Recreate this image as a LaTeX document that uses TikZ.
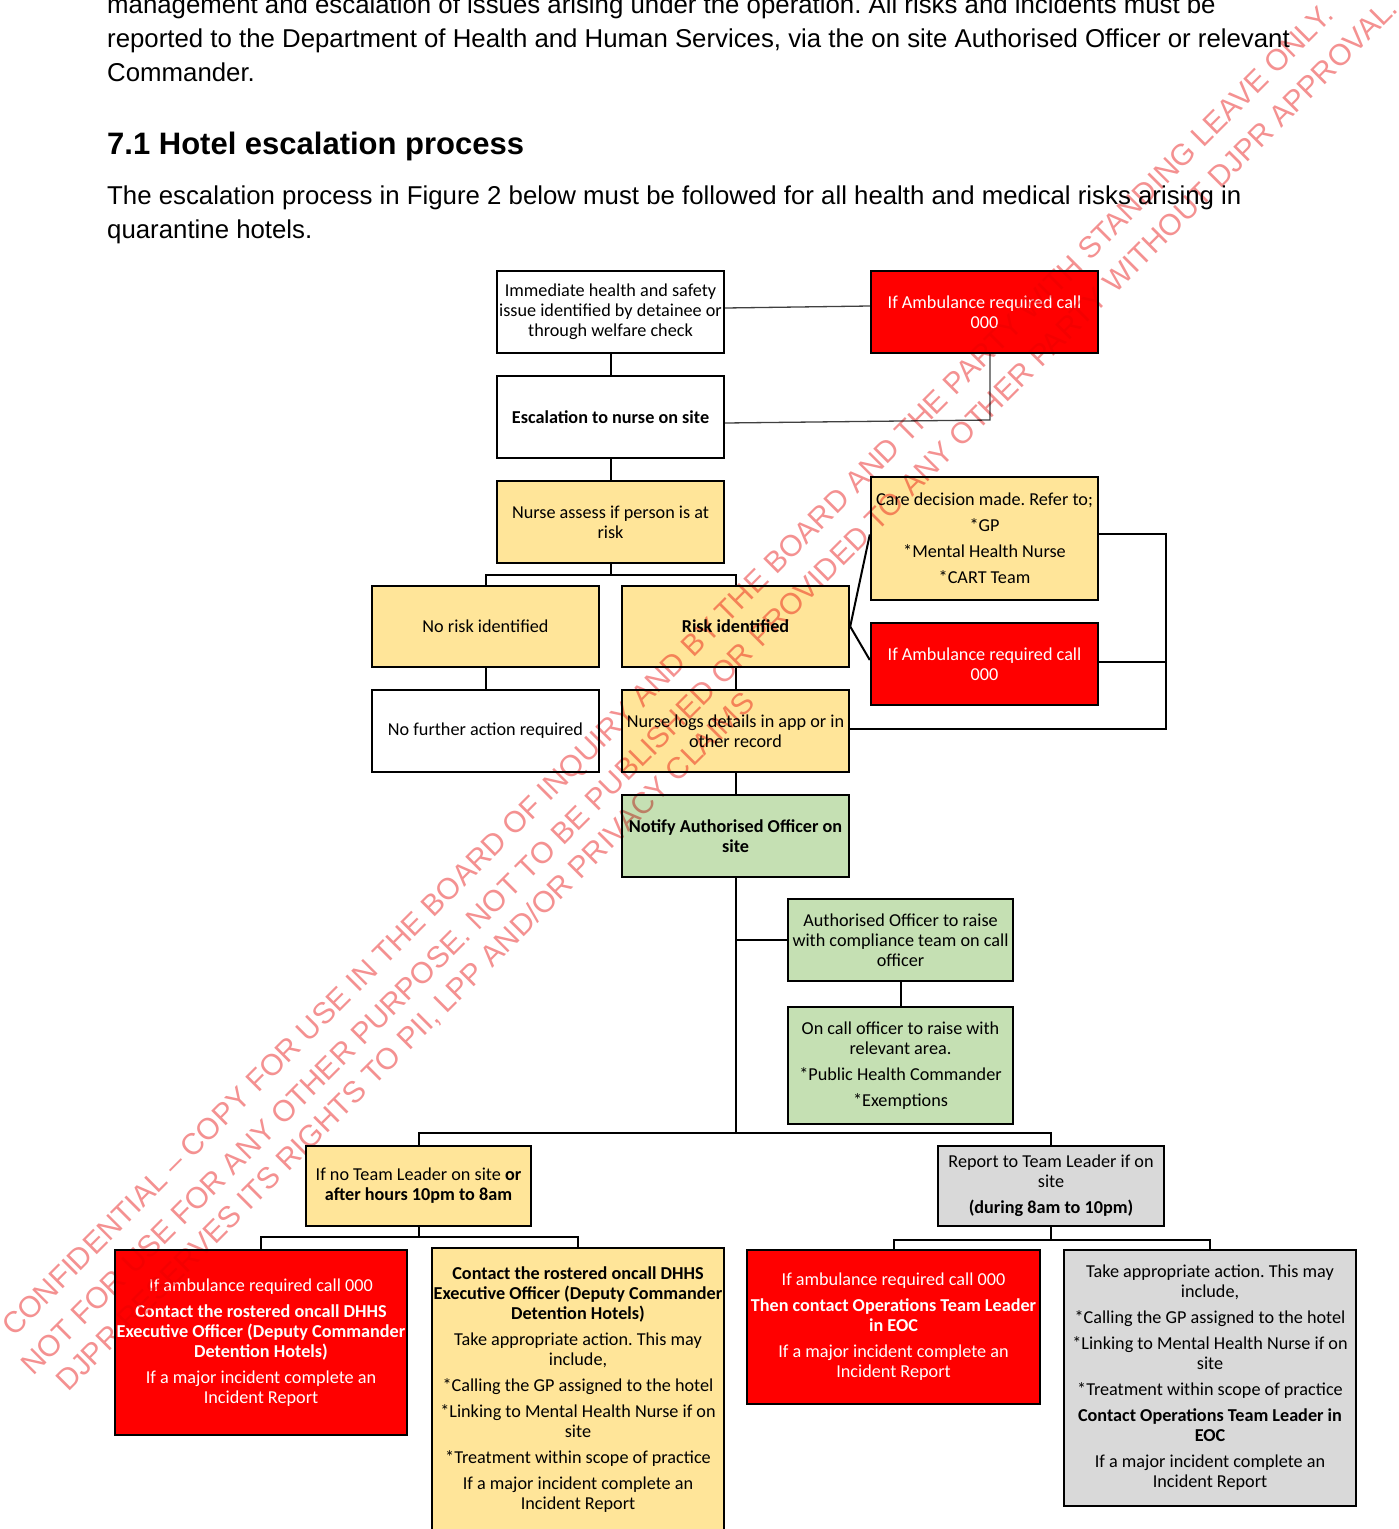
\documentclass[tikz,border=0pt]{standalone}
\usepackage{fontspec}
\setmainfont{Liberation Sans}
\newfontfamily\boxfont{Carlito}
\usepackage{pdfrender}
\definecolor{yel}{RGB}{255,229,153}
\definecolor{grn}{RGB}{197,224,179}
\definecolor{gry}{RGB}{217,217,217}
\definecolor{redbox}{RGB}{255,0,0}
\definecolor{wmcol}{RGB}{244,145,145}
\frenchspacing
\begin{document}
\begin{tikzpicture}[x=1pt,y=-1pt,
  box/.style={draw=black, line width=2.4pt, inner sep=0pt, align=center,
    font=\boxfont\fontsize{18.2}{20}\selectfont\frenchspacing},
  wbox/.style={box, fill=white},
  ybox/.style={box, fill=yel},
  gbox/.style={box, fill=grn},
  grbox/.style={box, fill=gry},
  rbox/.style={box, fill=redbox, text=white},
  conn/.style={line width=2pt, black},
  thinconn/.style={line width=1.3pt, black!75},
  body/.style={anchor=base west, inner sep=0pt, font=\fontsize{25.8}{34}\selectfont\frenchspacing},
  head/.style={anchor=base west, inner sep=0pt, font=\bfseries\fontsize{31}{36}\selectfont},
  wmark/.style={anchor=base west, inner sep=0pt, rotate=45, text=wmcol,
    font=\fontsize{29.9}{36}\selectfont\frenchspacing}
]
\useasboundingbox (0,0) rectangle (1399,1529);
\clip (0,0) rectangle (1399,1529);
\fill[white] (0,0) rectangle (1399,1529);

% body text
\node[body] (t1) at (107,13) {management and escalation of issues arising under the operation. All risks and incidents must be};
\node[body] (t2) at (107,47) {reported to the Department of Health and Human Services, via the on site Authorised Officer or relevant};
\node[body] (t3) at (107,81) {Commander.};
\node[head] (h1) at (107,154) {7.1 Hotel escalation process};
\node[body] (t4) at (107,204) {The escalation process in Figure 2 below must be followed for all health and medical risks arising in};
\node[body] (t5) at (107,238) {quarantine hotels.};

% boxes
\node[wbox, minimum width=227pt, minimum height=82pt] (b1) at (610.5,312)
  {Immediate health and safety\\issue identified by detainee or\\through welfare check};
\node[rbox, minimum width=227pt, minimum height=82pt] (a1) at (984.5,312)
  {If Ambulance required call\\000};
\node[wbox, minimum width=227pt, minimum height=82pt] (b2) at (610.5,417)
  {\textbf{Escalation to nurse on site}};
\node[ybox, minimum width=227pt, minimum height=82pt] (b3) at (610.5,522)
  {Nurse assess if person is at\\risk};
\node[ybox, minimum width=227pt, minimum height=81pt] (b4) at (485.5,626.5)
  {No risk identified};
\node[ybox, minimum width=227pt, minimum height=81pt] (b5) at (735.5,626.5)
  {\textbf{Risk identified}};
\node[wbox, minimum width=227pt, minimum height=82pt] (b6) at (485.5,731)
  {No further action required};
\node[ybox, minimum width=227pt, minimum height=82pt] (b7) at (735.5,731)
  {Nurse logs details in app or in\\other record};
\node[gbox, minimum width=227pt, minimum height=82pt] (b8) at (735.5,836)
  {\textbf{Notify Authorised Officer on}\\\textbf{site}};
\node[ybox, minimum width=227pt, minimum height=123pt] (c1) at (984.5,538.5)
  {Care decision made. Refer to;\\[6pt]*GP\\[6pt]*Mental Health Nurse\\[6pt]*CART Team};
\node[rbox, minimum width=227pt, minimum height=82pt] (a2) at (984.5,664)
  {If Ambulance required call\\000};
\node[gbox, minimum width=225pt, minimum height=82pt] (g1) at (900.5,940)
  {Authorised Officer to raise\\with compliance team on call\\officer};
\node[gbox, minimum width=225pt, minimum height=117pt] (g2) at (900.5,1065.5)
  {On call officer to raise with\\relevant area.\\[6pt]*Public Health Commander\\[6pt]*Exemptions};
\node[ybox, minimum width=225pt, minimum height=80pt] (y1) at (418.5,1186)
  {If no Team Leader on site \textbf{or}\\\textbf{after hours 10pm to 8am}};
\node[grbox, minimum width=226pt, minimum height=80pt] (gr1) at (1051,1186)
  {Report to Team Leader if on\\site\\[6pt]\textbf{(during 8am to 10pm)}};
\node[rbox, minimum width=292pt, minimum height=185pt] (r1) at (261,1342.5)
  {If ambulance required call 000\\[6pt]\textbf{Contact the rostered oncall DHHS}\\\textbf{Executive Officer (Deputy Commander}\\\textbf{Detention Hotels)}\\[6pt]If a major incident complete an\\Incident Report};
\node[ybox, minimum width=292pt, minimum height=284pt] (y2) at (578,1390)
  {\textbf{Contact the rostered oncall DHHS}\\\textbf{Executive Officer (Deputy Commander}\\\textbf{Detention Hotels)}\\[6pt]Take appropriate action. This may\\include,\\[6pt]*Calling the GP assigned to the hotel\\[6pt]*Linking to Mental Health Nurse if on\\site\\[6pt]*Treatment within scope of practice\\[6pt]If a major incident complete an\\Incident Report};
\node[rbox, minimum width=293pt, minimum height=154pt] (r2) at (893.5,1327)
  {If ambulance required call 000\\[6pt]\textbf{Then contact Operations Team Leader}\\\textbf{in EOC}\\[6pt]If a major incident complete an\\Incident Report};
\node[grbox, minimum width=292pt, minimum height=256pt] (gr2) at (1210,1378)
  {Take appropriate action. This may\\include,\\[6pt]*Calling the GP assigned to the hotel\\[6pt]*Linking to Mental Health Nurse if on\\site\\[6pt]*Treatment within scope of practice\\[6pt]\textbf{Contact Operations Team Leader in}\\\textbf{EOC}\\[6pt]If a major incident complete an\\Incident Report};

% connector coordinates
\coordinate (k1) at (990,420);
\coordinate (k2) at (610.5,575);
\coordinate (k3) at (1166,534);
\coordinate (k4) at (1166,662);
\coordinate (k5) at (1166,729);
\coordinate (k6) at (735.5,940);
\coordinate (k7) at (735.5,1133);
\coordinate (k8) at (418.5,1237);
\coordinate (k9) at (1051,1240);

% connectors
\draw[conn] (b1.south) -- (b2.north);
\draw[conn] (b2.south) -- (b3.north);
\draw[thinconn] ([yshift=4pt]b1.east) -- ([yshift=6pt]a1.west);
\draw[thinconn] ([xshift=5.5pt]a1.south) -- ([xshift=5.5pt]a1.south |- k1) -- (k1) -- ([yshift=-6pt]b2.east);
\draw[conn] (b3.south) -- (k2);
\draw[conn] (b4.north) -- (b4.north |- k2) -- (b5.north |- k2) -- (b5.north);
\draw[conn] (b4.south) -- (b6.north);
\draw[conn] (b5.south) -- (b7.north);
\draw[conn] (b7.south) -- (b8.north);
\draw[conn] (b5.east) -- ([yshift=4pt]c1.west);
\draw[conn] (b5.east) -- ([yshift=4pt]a2.west);
\draw[conn] ([yshift=4.5pt]c1.east) -- (k3) -- (k5) -- ([yshift=2pt]b7.east);
\draw[conn] ([yshift=2pt]a2.east) -- (k4);
\draw[conn] (b8.south) -- (k7);
\draw[conn] (k6) -- (g1.west);
\draw[conn] (g1.south) -- (g2.north);
\draw[conn] (y1.north) -- (y1.north |- k7) -- (gr1.north |- k7) -- (gr1.north);
\draw[conn] (y1.south) -- (k8);
\draw[conn] (r1.north) -- (r1.north |- k8) -- (y2.north |- k8) -- (y2.north);
\draw[conn] (gr1.south) -- (k9);
\draw[conn] (r2.north) -- (r2.north |- k9) -- (gr2.north |- k9) -- (gr2.north);

% watermark
\begin{scope}[blend mode=multiply]
\node[wmark] (w1) at (14,1338) {\textpdfrender{TextRenderingMode=1,LineWidth=1.1pt}{CONFIDENTIAL – COPY FOR USE IN THE BOARD OF INQUIRY AND BY THE BOARD AND THE PARTY WITH STANDING LEAVE ONLY.}};
\node[wmark] (w2) at (33,1377) {\textpdfrender{TextRenderingMode=1,LineWidth=1.1pt}{NOT FOR USE FOR ANY OTHER PURPOSE. NOT TO BE PUBLISHED OR PROVIDED TO ANY OTHER PARTY WITHOUT DJPR APPROVAL.}};
\node[wmark] (w3) at (68,1393) {\textpdfrender{TextRenderingMode=1,LineWidth=1.1pt}{DJPR RESERVES ITS RIGHTS TO PII, LPP AND/OR PRIVACY CLAIMS}};
\end{scope}
\end{tikzpicture}
\end{document}
